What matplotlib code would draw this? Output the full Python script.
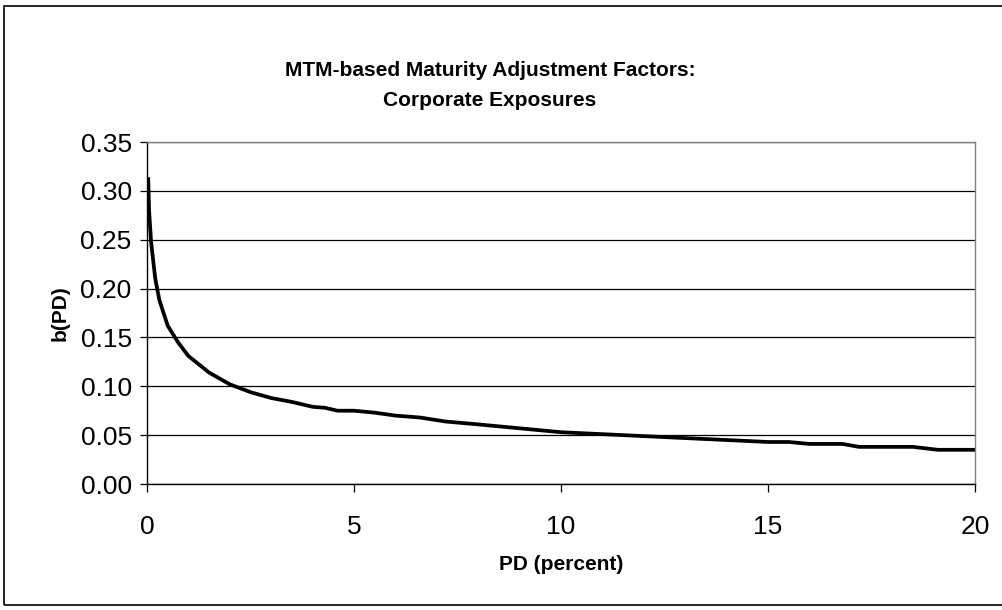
import matplotlib.pyplot as plt
from matplotlib.patches import Rectangle

# PD in percent and b(PD)
pd_pct = [0.03, 0.05, 0.1, 0.2, 0.3, 0.5, 0.75, 1.0, 1.5, 2.0, 2.5, 3.0, 3.5,
          4.0, 4.3, 4.6, 5.0, 5.5, 6.0, 6.6, 7.2, 8.0, 9.0, 10.0, 11.0, 12.0,
          13.0, 14.0, 15.0, 15.5, 16.0, 16.8, 17.2, 18.5, 19.1, 20.0]
b_pd = [0.312, 0.280, 0.247, 0.210, 0.188, 0.162, 0.145, 0.131, 0.114, 0.102,
        0.094, 0.088, 0.084, 0.079, 0.078, 0.075, 0.075, 0.073, 0.070, 0.068,
        0.064, 0.061, 0.057, 0.053, 0.051, 0.049, 0.047, 0.045, 0.043, 0.043,
        0.041, 0.041, 0.038, 0.038, 0.035, 0.035]

x_ticks = [0, 5, 10, 15, 20]
y_ticks = [0.00, 0.05, 0.10, 0.15, 0.20, 0.25, 0.30, 0.35]

plt.rcParams["font.family"] = ["Liberation Sans", "DejaVu Sans"]

W, H = 1002, 610
fig = plt.figure(figsize=(W / 100, H / 100), dpi=100)
ax = fig.add_axes([147 / W, 1 - 484 / H, (975 - 147) / W, (484 - 142) / H])

ax.plot(pd_pct, b_pd, color="black", linewidth=2.7, solid_joinstyle="round")

ax.set_xlim(0, 20)
ax.set_ylim(0, 0.35)
ax.set_xticks(x_ticks)
ax.set_xticklabels([str(t) for t in x_ticks], fontsize=19)
ax.set_yticks(y_ticks)
ax.set_yticklabels([f"{t:.2f}" for t in y_ticks], fontsize=19)

ax.set_axisbelow(True)
ax.yaxis.grid(True, color="black", linewidth=0.9)
ax.xaxis.grid(False)
ax.tick_params(axis="y", direction="out", length=5, width=0.9, pad=6)
ax.tick_params(axis="x", direction="out", length=6, width=0.9, pad=16)

for s in ["left", "bottom"]:
    ax.spines[s].set_color("black")
    ax.spines[s].set_linewidth(1.0)
for s in ["top", "right"]:
    ax.spines[s].set_color("#808080")
    ax.spines[s].set_linewidth(1.0)

ax.set_xlabel("PD (percent)", fontsize=15, fontweight="bold", labelpad=12)
ax.set_ylabel("b(PD)", fontsize=15, fontweight="bold", labelpad=8)

fig.text(490 / W, 1 - 70 / H, "MTM-based Maturity Adjustment Factors:",
         ha="center", va="center", fontsize=15, fontweight="bold")
fig.text(490 / W, 1 - 100 / H, "Corporate Exposures",
         ha="center", va="center", fontsize=15, fontweight="bold")

# chart area border
fig.patches.append(Rectangle((4 / W, 1 - 605 / H), 1.0, (605 - 6) / H,
                             transform=fig.transFigure, fill=False,
                             edgecolor="black", linewidth=1.2))

fig.savefig("out.png", dpi=100)
